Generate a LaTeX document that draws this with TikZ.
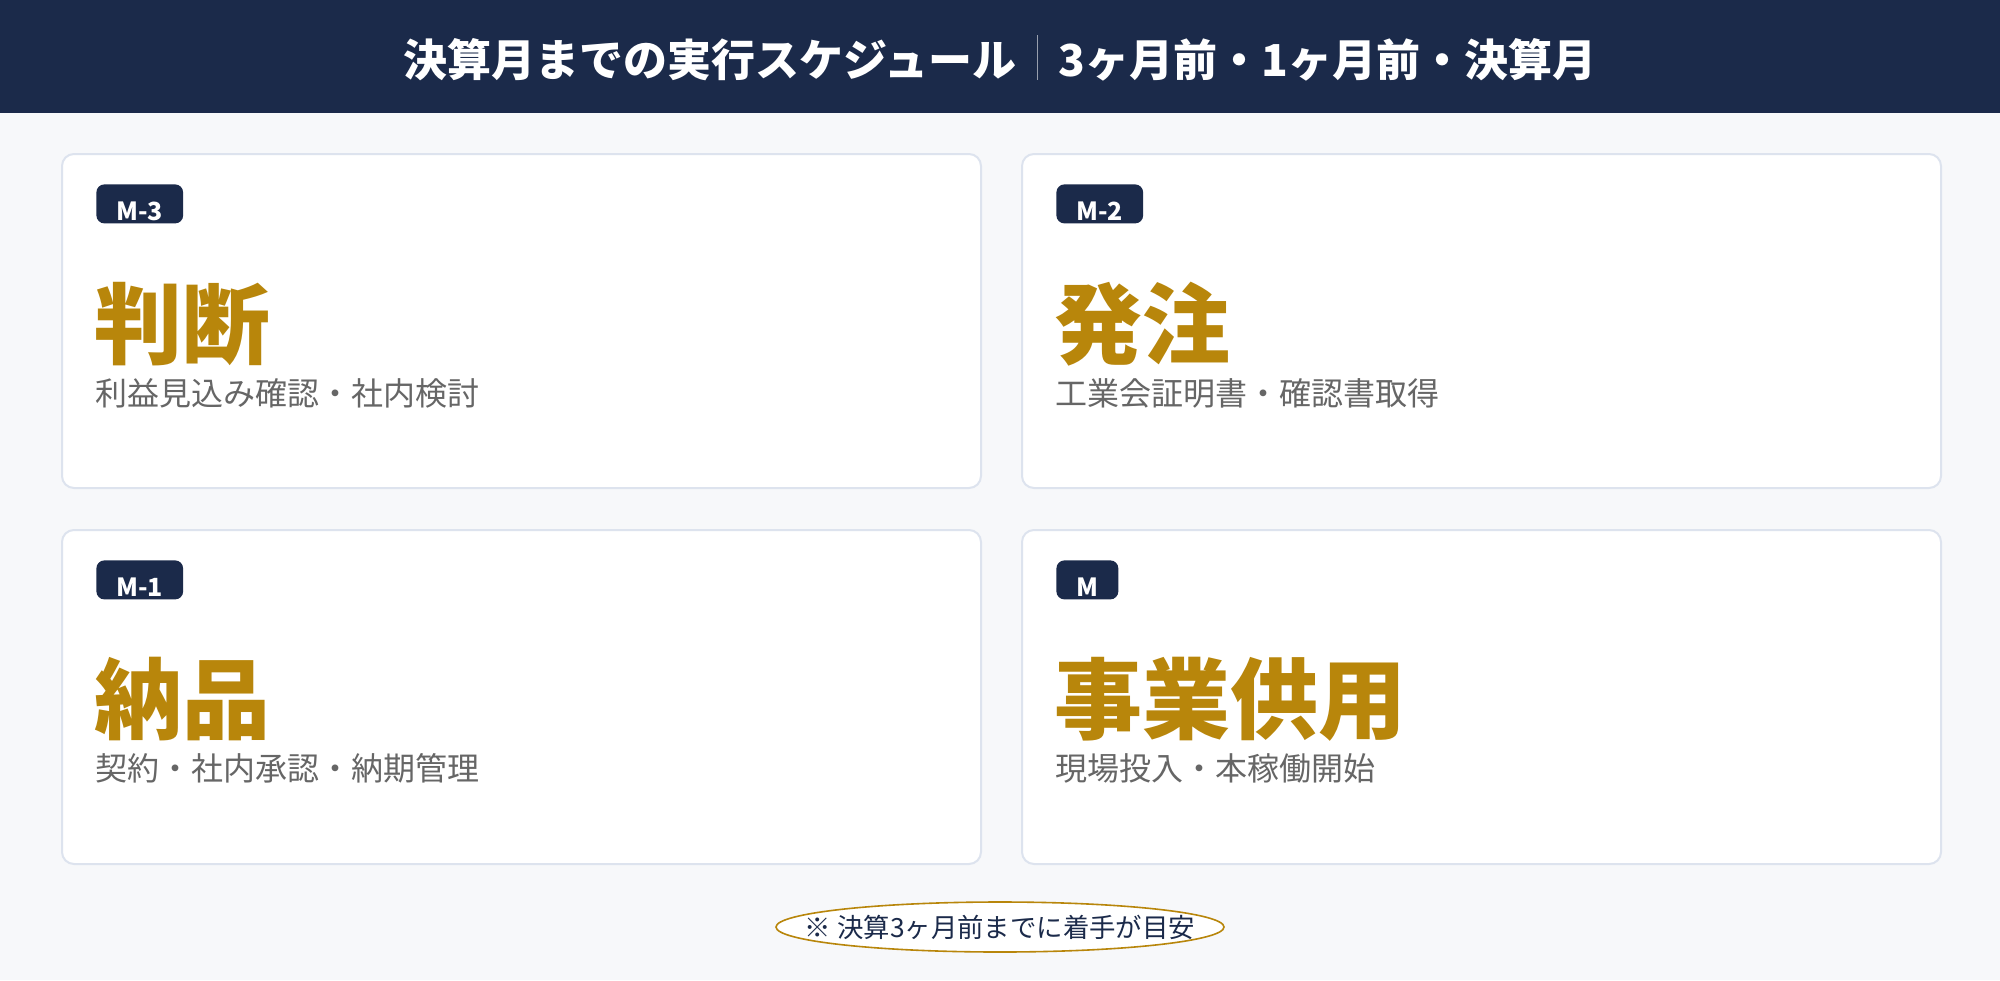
\documentclass[tikz,border=0pt]{standalone}
\usepackage{fontspec}
\setmainfont{Noto Sans CJK JP}
\usetikzlibrary{shapes.geometric}
\definecolor{navy}{HTML}{1B2A4A}
\definecolor{bgcol}{HTML}{F7F8FA}
\definecolor{cardborder}{HTML}{DDE3EE}
\definecolor{gold}{HTML}{B8860B}
\definecolor{subgray}{HTML}{666666}
\tikzset{
  card/.style={draw=cardborder, fill=white, rounded corners=6pt, line width=1pt,
    minimum width=459.5pt, minimum height=167pt, anchor=north west, inner sep=0pt},
  badge/.style={fill=navy, text=white, rounded corners=4pt,
    font=\fontsize{12.5}{14}\selectfont\bfseries, minimum height=19.5pt,
    inner xsep=10pt, inner ysep=0pt, text height=16.5pt, text depth=0pt, anchor=north west},
  bigt/.style={text=gold, font=\fontsize{44}{50}\selectfont\bfseries, anchor=base west, inner sep=0pt},
  subt/.style={text=subgray, font=\fontsize{16}{20}\selectfont, anchor=base west, inner sep=0pt},
}
\begin{document}
\begin{tikzpicture}[x=0.5pt,y=-0.5pt]
\fill[bgcol] (0,0) rectangle (2000,980);
\useasboundingbox (0,0) rectangle (2000,980);
\fill[navy] (0,0) rectangle (2000,113);
\node[text=white, font=\fontsize{22}{26}\selectfont\bfseries, inner sep=0pt] (title) at (1000,58)
  {決算月までの実行スケジュール\hspace{10pt}{\color{white!55!navy}\rule[-1.5pt]{0.8pt}{22.5pt}}\hspace{10pt}3ヶ月前・1ヶ月前・決算月};

\node[card] (c1) at (61,153) {};
\node[card] (c2) at (1021,153) {};
\node[card] (c3) at (61,529) {};
\node[card] (c4) at (1021,529) {};

\node[badge] (b1) at (96,184) {M-3};
\node[badge] (b2) at (1056,184) {M-2};
\node[badge] (b3) at (96,560) {M-1};
\node[badge] (b4) at (1056,560) {M};

\node[bigt] (t1) at (94,357) {判断};
\node[bigt] (t2) at (1054,357) {発注};
\node[bigt] (t3) at (94,732) {納品};
\node[bigt] (t4) at (1054,732) {事業供用};

\node[subt] (s1) at (95,405) {利益見込み確認・社内検討};
\node[subt] (s2) at (1055,405) {工業会証明書・確認書取得};
\node[subt] (s3) at (95,780) {契約・社内承認・納期管理};
\node[subt] (s4) at (1055,780) {現場投入・本稼働開始};

\node[ellipse, draw=gold, fill=white, line width=0.8pt, minimum width=224pt, minimum height=25pt, inner sep=0pt] (noteshape) at (1000,927) {};
\node[text=navy, font=\fontsize{13.2}{15}\selectfont, inner sep=0pt] (note) at (noteshape.center) {※ 決算3ヶ月前までに着手が目安};
\end{tikzpicture}
\end{document}
